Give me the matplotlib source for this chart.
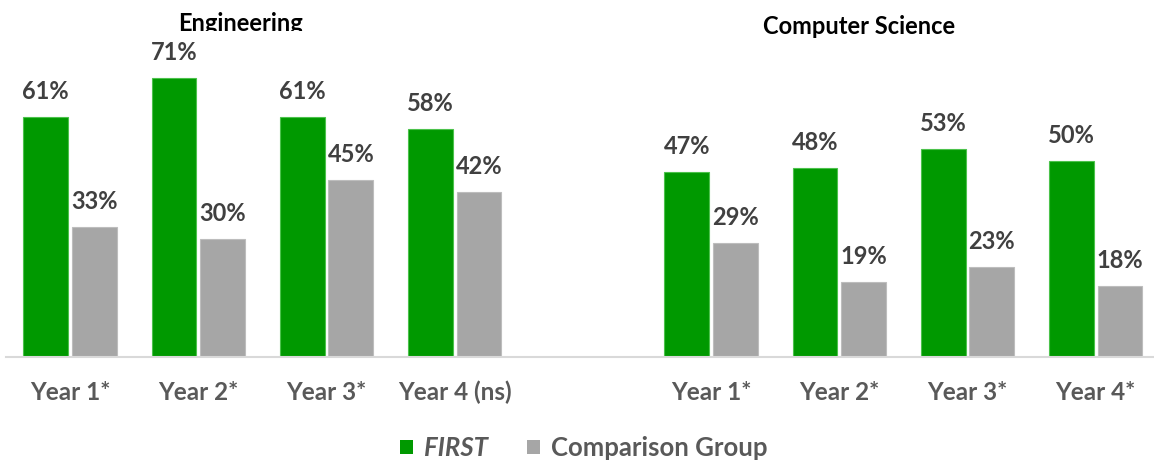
import matplotlib
matplotlib.use("Agg")
import matplotlib.pyplot as plt
import numpy as np
from matplotlib.transforms import Bbox, TransformedBbox
from matplotlib.patches import Patch

plt.rcParams['font.family'] = ['Lato', 'DejaVu Sans']
plt.rcParams['font.weight'] = 'bold'

# Data
eng_labels = ['Year 1*', 'Year 2*', 'Year 3*', 'Year 4 (ns)']
eng_first = [61, 71, 61, 58]
eng_comp = [33, 30, 45, 42]

cs_labels = ['Year 1*', 'Year 2*', 'Year 3*', 'Year 4*']
cs_first = [47, 48, 53, 50]
cs_comp = [29, 19, 23, 18]

green = '#009900'
gray = '#A6A6A6'
label_col = '#404040'
tick_col = '#595959'

W, H = 1154, 466
fig = plt.figure(figsize=(W / 100, H / 100), dpi=100)
slot = 128.2
ax = fig.add_axes([6.0 / W, 109 / H, 9 * slot / W, 314.4 / H])

# 9 slots: 4 engineering, one empty, 4 computer science
labels = eng_labels + [''] + cs_labels
first = eng_first + [np.nan] + cs_first
comp = eng_comp + [np.nan] + cs_comp
x = np.arange(len(labels))
bw = 0.35
off = 0.19

b1 = ax.bar(x - off, first, bw, color=green, edgecolor='#4CC24C', linewidth=0.8)
b2 = ax.bar(x + off, comp, bw, color=gray, edgecolor='#BDBDBD', linewidth=0.8)

for bars in (b1, b2):
    for rect in bars:
        h = rect.get_height()
        if np.isnan(h):
            continue
        ax.annotate('{:.0f}%'.format(h), (rect.get_x() + rect.get_width() / 2, h),
                    xytext=(0, 10), textcoords='offset points', ha='center', va='bottom',
                    fontsize=17, fontweight='bold', color=label_col)

ax.set_xlim(-0.5, len(labels) - 0.5)
ax.set_ylim(0, 80)
ax.set_xticks(x)
ax.set_xticklabels(labels, fontsize=17.5, fontweight='bold', color=tick_col)
ax.tick_params(axis='x', length=0, pad=17)
ax.set_yticks([])
for s in ['top', 'right', 'left']:
    ax.spines[s].set_visible(False)
ax.spines['bottom'].set_color('#D9D9D9')
ax.spines['bottom'].set_linewidth(1.5)

# titles
t1 = fig.text(240 / W, 1 - 31 / H, 'Engineering', ha='center', va='baseline',
              fontsize=17, fontweight='bold', color='black')
t1.set_clip_box(TransformedBbox(Bbox([[0, 1 - 31 / H], [1, 1]]), fig.transFigure))
t1.set_clip_on(True)
fig.text(859 / W, 1 - 34 / H, 'Computer Science', ha='center', va='baseline',
         fontsize=17, fontweight='bold', color='black')

handles = [Patch(facecolor=green), Patch(facecolor=gray)]
leg = fig.legend(handles, ['FIRST', 'Comparison Group'], loc='center',
                 bbox_to_anchor=(584 / W, 1 - 448 / H), ncol=2, frameon=False,
                 handlelength=0.5, handleheight=0.5, handletextpad=0.45,
                 columnspacing=1.5, prop={'size': 18.5, 'weight': 'bold'})
for t in leg.get_texts():
    t.set_color(tick_col)
leg.get_texts()[0].set_style('italic')

fig.savefig('out.png', dpi=100)
